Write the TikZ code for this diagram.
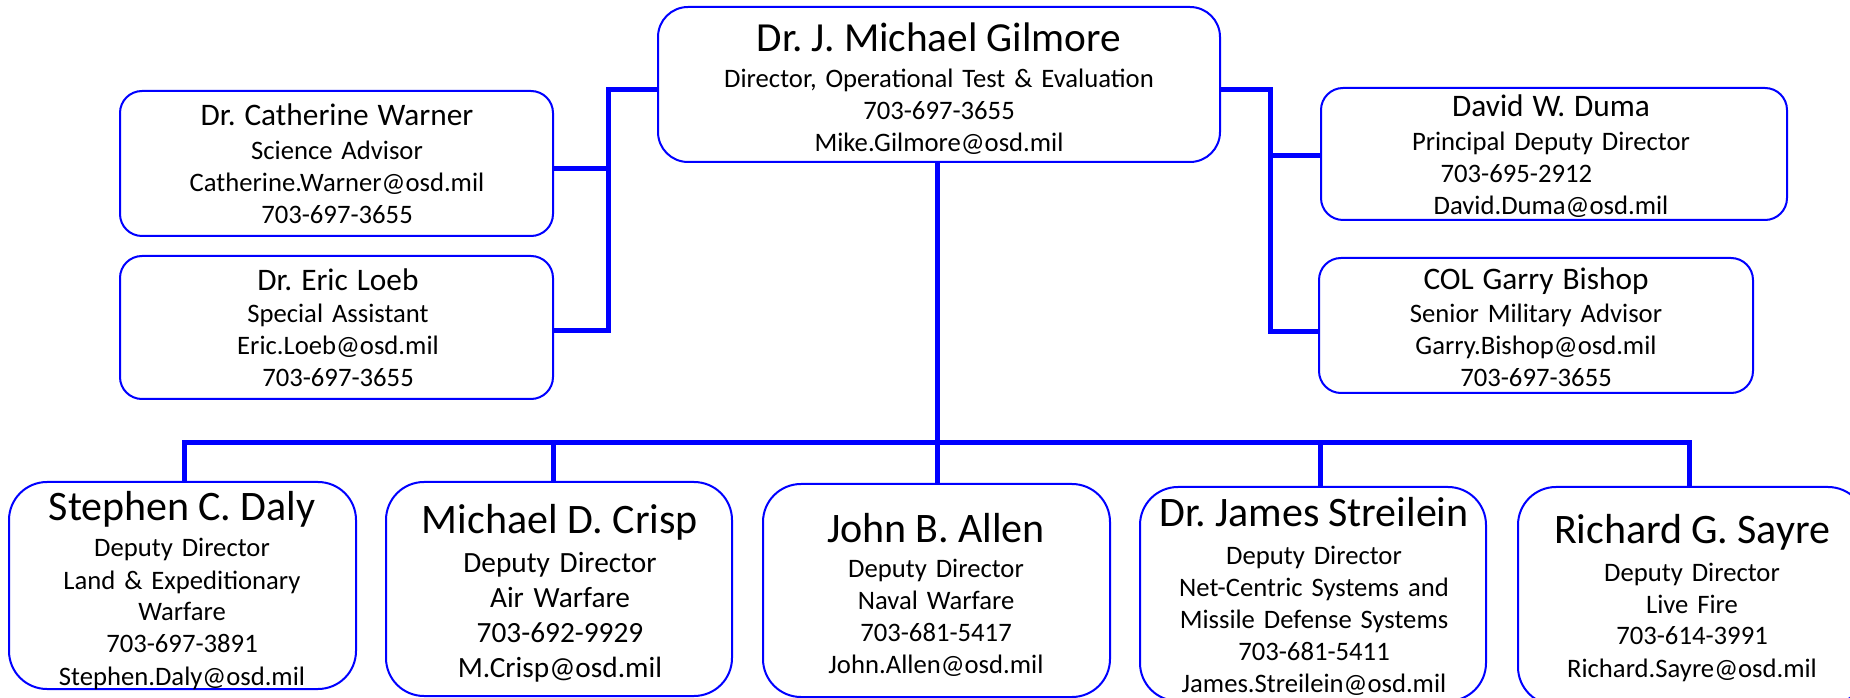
\documentclass[tikz,border=0pt]{standalone}
\usepackage{fontspec}
\setmainfont{Carlito}
\frenchspacing
\definecolor{orgblue}{RGB}{0,0,255}
\newcommand\nmBig[1]{{\fontsize{31.5}{31.5}\selectfont #1}}
\newcommand\nmMid[1]{{\fontsize{23.5}{23.5}\selectfont #1}}
\begin{document}
\begin{tikzpicture}[x=0.75pt,y=-0.75pt,
  box/.style n args={3}{draw=orgblue, line width=1.5pt, fill=white,
    rounded corners=#3, minimum width=#1*0.75pt, minimum height=#2*0.75pt,
    inner sep=0pt, outer sep=0pt},
  txt/.style={anchor=base, align=center, inner sep=0pt, text width=#1*0.75pt,
    font=\fontsize{20}{24}\selectfont},
  txtb/.style={anchor=base, align=center, inner sep=0pt, text width=#1*0.75pt,
    font=\fontsize{22}{26.25}\selectfont},
  conn/.style={draw=orgblue, line width=3.75pt}]
\useasboundingbox (0,0) rectangle (1850,698);

% boxes
\node[box={562}{155}{22.5pt}] (gil) at (939,84.5) {};
\node[box={433}{145}{16.5pt}] (cath) at (336.5,163.5) {};
\node[box={433}{143}{16.5pt}] (eric) at (336.5,327.5) {};
\node[box={466}{132}{16.5pt}] (duma) at (1554,154) {};
\node[box={434}{135}{16.5pt}] (bish) at (1536,325.5) {};
\node[box={347}{207}{28.5pt}] (dal) at (182.5,585.5) {};
\node[box={346}{214}{28.5pt}] (cri) at (559,589) {};
\node[box={347}{213}{28.5pt}] (all) at (936.5,590.5) {};
\node[box={346}{214}{28.5pt}] (str) at (1313,594) {};
\node[box={348}{218}{28.5pt}] (say) at (1692,596) {};

% connectors
\coordinate (L) at (608,90);
\coordinate (R) at (1270,90);
\coordinate (B) at (937,443);
\draw[conn] (gil.west |- L) -- (L) -- (L |- 0,331) -- (eric.east |- 0,331);
\draw[conn] (cath.east |- 0,169) -- (L |- 0,169);
\draw[conn] (gil.east |- R) -- (R) -- (R |- 0,332) -- (bish.west |- 0,332);
\draw[conn] (duma.west |- 0,156) -- (R |- 0,156);
\draw[conn] (gil.south -| B) -- (B);
\draw[conn] (dal.north -| 184,0) -- (184,443) -- (1689,443) -- (say.north -| 1689,0);
\draw[conn] (553,443) -- (cri.north -| 553,0);
\draw[conn] (B) -- (all.north -| B);
\draw[conn] (1320,443) -- (str.north -| 1320,0);

% texts
\node[txt=540] (gilt) at (939,52) {\fontsize{31}{31}\selectfont Dr. J. Michael Gilmore\\[3pt]
  \fontsize{20}{24}\selectfont Director, Operational Test \& Evaluation\\ 703-697-3655\\ Mike.Gilmore@osd.mil};
\node[txt=420] (catht) at (337,126) {\nmMid{Dr. Catherine Warner}\\[1.5pt]
  Science Advisor\\ Catherine.Warner@osd.mil\\ 703-697-3655};
\node[txt=420] (erict) at (338,291) {\nmMid{Dr. Eric Loeb}\\
  Special Assistant\\ Eric.Loeb@osd.mil\\ 703-697-3655};
\node[txt=450] (dumat) at (1551,117) {\nmMid{David W. Duma}\\[1.5pt]
  Principal Deputy Director\\ 703-695-2912\kern52pt\\ David.Duma@osd.mil};
\node[txt=420] (bisht) at (1536,290) {\nmMid{COL Garry Bishop}\\[0.75pt]
  Senior Military Advisor\\ Garry.Bishop@osd.mil\\ 703-697-3655};
\node[txt=340] (dalt) at (182,520) {\nmBig{Stephen C. Daly}\\[3.75pt]
  Deputy Director\\ Land \& Expeditionary\\ Warfare\\ 703-697-3891\\ Stephen.Daly@osd.mil};
\node[txtb=340] (crit) at (560,533) {\nmBig{Michael D. Crisp}\\[3pt]
  Deputy Director\\ Air Warfare\\ 703-692-9929\\ M.Crisp@osd.mil};
\node[txt=340] (allt) at (936,542) {\nmBig{John B. Allen}\\[2.25pt]
  Deputy Director\\ Naval Warfare\\ 703-681-5417\\ John.Allen@osd.mil};
\node[txt=344] (strt) at (1314,527) {\nmBig{Dr. James Streilein}\\[4.5pt]
  Deputy Director\\ Net-Centric Systems and\\ Missile Defense Systems\\ 703-681-5411\\ James.Streilein@osd.mil};
\node[txt=340] (sayt) at (1692,543) {\nmBig{Richard G. Sayre}\\[4.5pt]
  Deputy Director\\ Live Fire\\ 703-614-3991\\ Richard.Sayre@osd.mil};
\end{tikzpicture}
\end{document}
